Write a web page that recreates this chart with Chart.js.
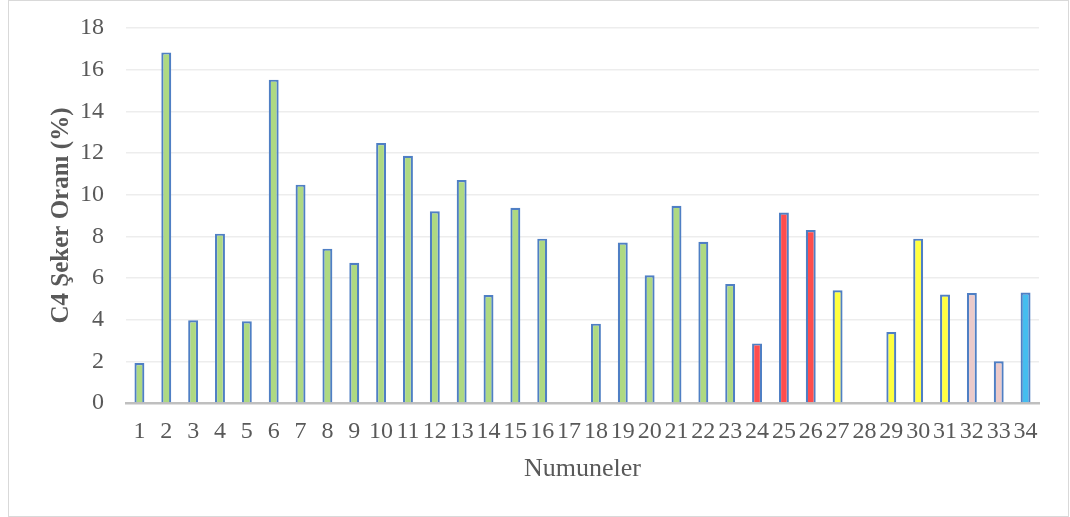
<!DOCTYPE html>
<html>
<head>
<meta charset="utf-8">
<script src="https://cdn.jsdelivr.net/npm/chart.js@4/dist/chart.umd.min.js"></script>
<style>
  html, body { margin: 0; padding: 0; background: #ffffff; }
  #wrap { position: relative; width: 1070px; height: 517px; }
  #frame { position: absolute; left: 8px; top: 0; width: 1059px; height: 515px; border: 1px solid #d9d9d9; box-sizing: content-box; }
  canvas { position: absolute; left: 0; top: 0; }
</style>
</head>
<body>
<div id="wrap">
  <div id="frame"></div>
  <canvas id="chart" width="1070" height="517"></canvas>
</div>
<script>
// Sample numbers along the x axis
const categories = Array.from({ length: 34 }, (_, i) => String(i + 1));

// C4 sugar ratio (%) per sample; samples 17 and 28 have no value
const c4Ratio = [
  1.92, 16.83, 3.97, 8.13, 3.92, 15.52, 10.48, 7.41, 6.73, 12.48,
  11.87, 9.2, 10.7, 5.18, 9.37, 7.89, null, 3.81, 7.7, 6.13,
  9.47, 7.74, 5.71, 2.86, 9.14, 8.3, 5.41, null, 3.41, 7.89,
  5.21, 5.28, 2.0, 5.3
];

// Group of each sample, which sets its fill colour
const groups = [
  'g', 'g', 'g', 'g', 'g', 'g', 'g', 'g', 'g', 'g',
  'g', 'g', 'g', 'g', 'g', 'g', 'g', 'g', 'g', 'g',
  'g', 'g', 'g', 'r', 'r', 'r', 'y', 'y', 'y', 'y',
  'y', 'p', 'p', 'b'
];

const yTicks = [0, 2, 4, 6, 8, 10, 12, 14, 16, 18];

const groupFill = { g: '#aed982', r: '#ff4d4d', y: '#ffff40', p: '#ebcaca', b: '#45bdef' };
const textColor = '#595959';
const serif = "'Liberation Serif', 'Times New Roman', serif";

new Chart(document.getElementById('chart'), {
  type: 'bar',
  data: {
    labels: categories,
    datasets: [{
      data: c4Ratio,
      backgroundColor: groups.map(g => groupFill[g]),
      borderColor: '#4f7fc4',
      borderWidth: 2.2,
      borderSkipped: 'start',
      categoryPercentage: 1,
      barPercentage: 0.37
    }]
  },
  options: {
    responsive: false,
    animation: false,
    layout: { padding: { left: 0, right: 31, top: 28, bottom: 0 } },
    plugins: { legend: { display: false }, tooltip: { enabled: false } },
    scales: {
      x: {
        z: 1, // baseline sits on top of the bar bottoms
        grid: { display: false, drawTicks: false },
        border: { display: true, color: '#bfbfbf', width: 2.5 },
        ticks: {
          color: textColor,
          font: { family: serif, size: 24 },
          padding: 14,
          maxRotation: 0,
          autoSkip: false
        },
        title: {
          display: true,
          text: 'Numuneler',
          color: textColor,
          font: { family: serif, size: 26 },
          padding: { top: 0, bottom: 32 }
        },
        afterFit: s => { s.height = 114; }
      },
      y: {
        min: 0,
        max: 18,
        afterBuildTicks: s => { s.ticks = yTicks.map(v => ({ value: v })); },
        grid: { color: '#ededed', lineWidth: 1.5, drawTicks: false },
        border: { display: false },
        ticks: {
          color: textColor,
          font: { family: serif, size: 24 },
          padding: 22
        },
        title: {
          display: true,
          text: 'C4 Şeker Oranı (%)',
          color: textColor,
          font: { family: serif, size: 25, weight: 'bold' },
          padding: { top: 47, bottom: 0 }
        },
        afterFit: s => {
          s.width = 126;
          // keep the label overhang from pushing the plot area down
          s.paddingTop = 0;
          s.paddingBottom = 0;
        }
      }
    }
  }
});
</script>
</body>
</html>
